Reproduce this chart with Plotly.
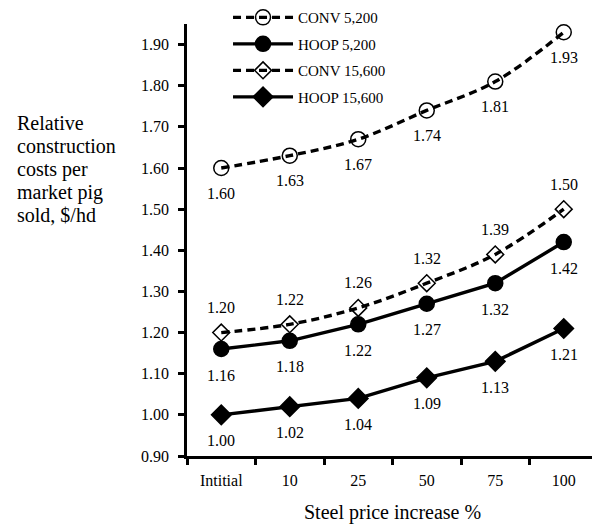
import plotly.graph_objects as go

# ---- data ----
categories = ["Intitial", "10", "25", "50", "75", "100"]
conv_5200 = [1.60, 1.63, 1.67, 1.74, 1.81, 1.93]
hoop_5200 = [1.16, 1.18, 1.22, 1.27, 1.32, 1.42]
conv_15600 = [1.20, 1.22, 1.26, 1.32, 1.39, 1.50]
hoop_15600 = [1.00, 1.02, 1.04, 1.09, 1.13, 1.21]
series_names = ["CONV 5,200", "HOOP 5,200", "CONV 15,600", "HOOP 15,600"]
y_tick_values = [0.90, 1.00, 1.10, 1.20, 1.30, 1.40, 1.50, 1.60, 1.70, 1.80, 1.90]
y_title_lines = ["Relative", "construction", "costs per", "market pig", "sold, $/hd"]
x_title = "Steel price increase %"

FONT = "Times New Roman, Liberation Serif, serif"

series = [
    dict(name=series_names[0], y=conv_5200, symbol="circle-open", size=15,
         dash="8px,5px", shape="spline", label_shift=-25),
    dict(name=series_names[1], y=hoop_5200, symbol="circle", size=15,
         dash="solid", shape="linear", label_shift=-26),
    dict(name=series_names[2], y=conv_15600, symbol="diamond-open", size=13,
         dash="8px,5px", shape="spline", label_shift=25),
    dict(name=series_names[3], y=hoop_15600, symbol="diamond", size=15,
         dash="solid", shape="linear", label_shift=-26),
]

fig = go.Figure()
annotations = []
for i, s in enumerate(series):
    fig.add_trace(go.Scatter(
        x=categories, y=s["y"], name=s["name"], mode="lines+markers",
        legendgroup=f"g{i}",
        line=dict(color="black", width=3.4, dash=s["dash"], shape=s["shape"],
                  smoothing=1.0),
        marker=dict(symbol=s["symbol"], size=s["size"], color="black",
                    line=dict(color="black", width=1.5)),
        cliponaxis=False,
    ))
    for idx, yv in enumerate(s["y"]):
        annotations.append(dict(
            x=idx, y=yv, xref="x", yref="y", text=f"{yv:.2f}", showarrow=False,
            yshift=s["label_shift"], font=dict(family=FONT, size=16, color="black"),
        ))

PH = 432.4  # plot-area height in px
# y-axis title as left aligned lines
for k, line in enumerate(y_title_lines):
    annotations.append(dict(
        x=-0.4185, xref="paper", xanchor="left",
        y=(456 - (123 + k * 23)) / PH, yref="paper", yanchor="middle",
        text=line, showarrow=False, align="left",
        font=dict(family=FONT, size=20, color="black"),
    ))

annotations.append(dict(
    x=0.5, xref="paper", xanchor="center",
    y=(456 - 513) / PH, yref="paper", yanchor="middle",
    text=x_title, showarrow=False,
    font=dict(family=FONT, size=20, color="black"),
))

fig.update_layout(
    width=592, height=517,
    margin=dict(l=179, r=2, t=16, b=69, autoexpand=False),
    paper_bgcolor="white", plot_bgcolor="white",
    font=dict(family=FONT, size=16, color="black"),
    showlegend=True,
    legend=dict(
        x=0.0998, y=1.053, xanchor="left", yanchor="top",
        bgcolor="rgba(0,0,0,0)", borderwidth=0,
        font=dict(family=FONT, size=15, color="black"),
        itemwidth=60, traceorder="grouped", tracegroupgap=4,
    ),
    annotations=annotations,
)

fig.update_xaxes(
    type="category", range=[-0.5, 5.5],
    showline=True, linecolor="black", linewidth=2.5,
    ticks="outside", tickson="boundaries", ticklen=6, tickwidth=2.5, tickcolor="black",
    showgrid=False, zeroline=False,
    tickfont=dict(family=FONT, size=16, color="black"),
    ticklabelstandoff=8,
)
fig.update_yaxes(
    range=[0.9, 1.95], tickvals=y_tick_values,
    ticktext=[f"{v:.2f}" for v in y_tick_values],
    showline=True, linecolor="black", linewidth=2.5,
    ticks="outside", ticklen=6, tickwidth=2.5, tickcolor="black",
    showgrid=False, zeroline=False,
    tickfont=dict(family=FONT, size=16, color="black"),
    ticklabelstandoff=6,
)

fig.write_html("out.html")
